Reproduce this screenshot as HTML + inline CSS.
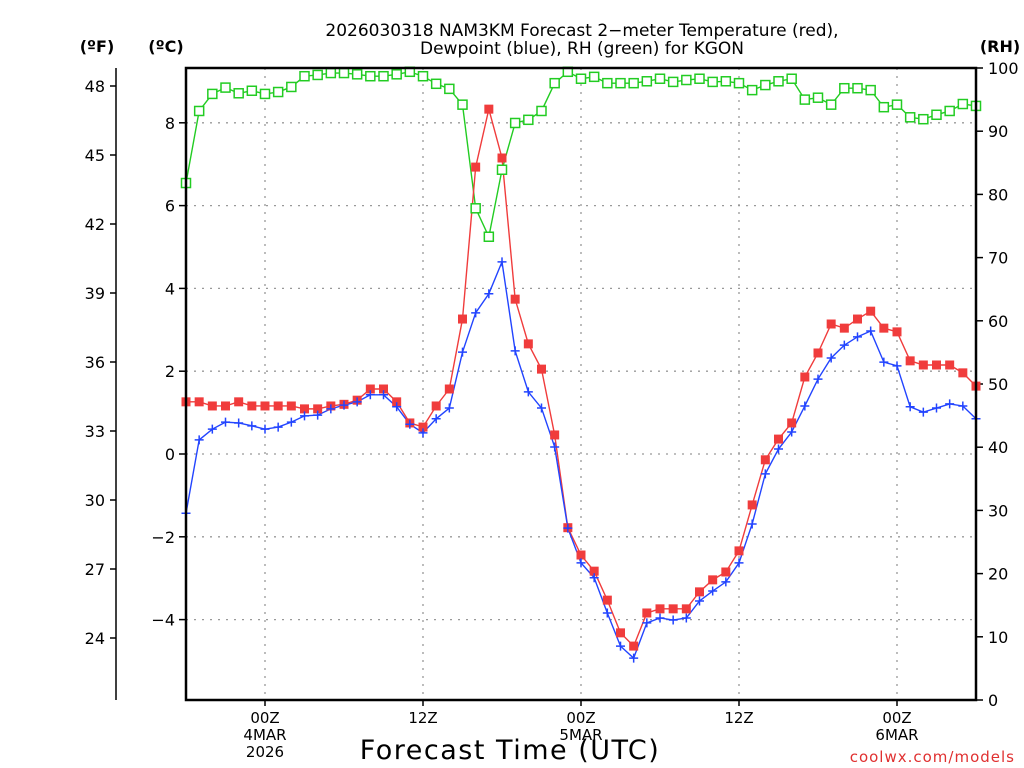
<!DOCTYPE html>
<html><head><meta charset="utf-8"><style>
html,body{margin:0;padding:0;background:#fff;}
svg{display:block;font-family:"DejaVu Sans","Liberation Sans",sans-serif;}
</style></head><body>
<svg id="chart" width="1024" height="768" viewBox="0 0 1024 768" xmlns="http://www.w3.org/2000/svg">
<text x="582" y="36" font-size="17" text-anchor="middle">2026030318 NAM3KM Forecast 2−meter Temperature (red),</text>
<text x="582" y="54" font-size="17" text-anchor="middle">Dewpoint (blue), RH (green) for KGON</text>
<text x="97" y="52" font-size="16" font-weight="bold" text-anchor="middle">(ºF)</text>
<text x="166" y="52" font-size="16" font-weight="bold" text-anchor="middle">(ºC)</text>
<text x="1000" y="52" font-size="16" font-weight="bold" text-anchor="middle">(RH)</text>
<g id="grid"></g>
<g id="axes"></g>
<g id="series"></g>
<rect x="186" y="68" width="790" height="632" fill="none" stroke="#000" stroke-width="2.5"/>
<text x="510" y="759" font-size="27" text-anchor="middle" letter-spacing="1.5">Forecast Time (UTC)</text>
<text x="1015" y="762" font-size="15" fill="#e03030" text-anchor="end" letter-spacing="1">coolwx.com/models</text>
</svg>
<script>
const hours = Array.from({length:61},(_,i)=>i);
const tempC = [1.26,1.26,1.16,1.16,1.26,1.16,1.16,1.16,1.16,1.09,1.09,1.16,1.2,1.3,1.57,1.57,1.26,0.75,0.65,1.16,1.57,3.26,6.93,8.33,7.15,3.74,2.66,2.05,0.46,-1.78,-2.44,-2.83,-3.53,-4.32,-4.64,-3.84,-3.74,-3.74,-3.74,-3.33,-3.04,-2.85,-2.34,-1.23,-0.14,0.36,0.75,1.86,2.44,3.14,3.04,3.26,3.45,3.04,2.95,2.25,2.15,2.15,2.15,1.96,1.64];
const dewC = [-1.43,0.34,0.6,0.77,0.75,0.68,0.6,0.65,0.77,0.92,0.94,1.09,1.18,1.26,1.43,1.43,1.14,0.72,0.51,0.85,1.11,2.46,3.41,3.87,4.64,2.49,1.5,1.11,0.17,-1.79,-2.63,-2.99,-3.84,-4.64,-4.93,-4.08,-3.96,-4.01,-3.96,-3.55,-3.31,-3.09,-2.63,-1.69,-0.48,0.12,0.53,1.16,1.81,2.32,2.63,2.83,2.97,2.22,2.13,1.14,1.01,1.11,1.21,1.16,0.85];
const rh = [81.8,93.2,95.9,96.9,96.0,96.4,95.9,96.2,97.0,98.7,98.9,99.2,99.2,99.0,98.7,98.7,99.0,99.4,98.7,97.5,96.7,94.2,77.8,73.3,83.9,91.3,91.8,93.2,97.6,99.4,98.3,98.6,97.6,97.6,97.6,97.9,98.3,97.8,98.1,98.3,97.8,97.9,97.6,96.5,97.3,97.9,98.3,95.0,95.3,94.2,96.8,96.8,96.5,93.8,94.2,92.2,91.9,92.6,93.2,94.3,94.0];
const cTicks = [-4,-2,0,2,4,6,8];
const fTicks = [24,27,30,33,36,39,42,45,48];
const rhTicks = [0,10,20,30,40,50,60,70,80,90,100];
const xTickHours = [6,18,30,42,54];
const xTickLabels = [["00Z","4MAR","2026"],["12Z"],["00Z","5MAR"],["12Z"],["00Z","6MAR"]];

const NS="http://www.w3.org/2000/svg";
const X0=186,X1=976,Y0=68,Y1=700;
const x = h => X0 + (h/60)*(X1-X0);
const yC = c => 454 - c*41.4;
const yF = f => yC((f-32)*5/9);
const yRH = r => Y1 - r/100*(Y1-Y0);
function mk(tag,attrs,parent,text){const e=document.createElementNS(NS,tag);for(const k in attrs)e.setAttribute(k,attrs[k]);if(text!==undefined)e.textContent=text;parent.appendChild(e);return e;}
const grid=document.getElementById('grid'),axes=document.getElementById('axes'),ser=document.getElementById('series');
const dash={stroke:"#999","stroke-width":1.3,"stroke-dasharray":"2 6"};
cTicks.forEach(c=>{
  const l=mk('line',Object.assign({x1:X0,x2:X1,y1:yC(c),y2:yC(c)},dash),grid);
  
  
  mk('line',{x1:179,x2:186,y1:yC(c),y2:yC(c),stroke:"#000","stroke-width":1.5},axes);
  const t=mk('text',{x:175,y:yC(c)+6,"font-size":16,"text-anchor":"end"},axes,c<0?"−"+(-c):String(c));
  
  
});
xTickHours.forEach((h,i)=>{
  const l=mk('line',Object.assign({x1:x(h),x2:x(h),y1:Y0,y2:Y1},dash),grid);
  
  
  mk('line',{x1:x(h),x2:x(h),y1:Y1,y2:Y1+6,stroke:"#000","stroke-width":1.5},axes);
  xTickLabels[i].forEach((s,j)=>{
    const t=mk('text',{x:x(h),y:723+j*17,"font-size":15,"text-anchor":"middle"},axes,s);
    
    
  });
});
mk('line',{x1:116,x2:116,y1:Y0,y2:Y1,stroke:"#000","stroke-width":1.5},axes);
fTicks.forEach(f=>{
  mk('line',{x1:110,x2:116,y1:yF(f),y2:yF(f),stroke:"#000","stroke-width":1.5},axes);
  const t=mk('text',{x:105,y:yF(f)+6,"font-size":16,"text-anchor":"end"},axes,String(f));
  
  
});
rhTicks.forEach(r=>{
  mk('line',{x1:976,x2:983,y1:yRH(r),y2:yRH(r),stroke:"#000","stroke-width":1.5},axes);
  const t=mk('text',{x:988,y:yRH(r)+6,"font-size":16,"text-anchor":"start"},axes,String(r));
  
  
});
function line(vals,yf,color,name){
  const p=mk('polyline',{points:vals.map((v,i)=>x(hours[i])+","+yf(v)).join(" "),fill:"none",stroke:color,"stroke-width":1.4},ser);
  
  
}
line(rh,yRH,"#22cc22","rh-line");
line(tempC,yC,"#f03c3c","temperature-line");
line(dewC,yC,"#2244ff","dewpoint-line");
rh.forEach((v,i)=>{const r=mk('rect',{x:x(hours[i])-4.5,y:yRH(v)-4.5,width:9,height:9,fill:"#fff",stroke:"#22cc22","stroke-width":1.5},ser);
  
  });
tempC.forEach((v,i)=>{const r=mk('rect',{x:x(hours[i])-4.5,y:yC(v)-4.5,width:9,height:9,fill:"#f03c3c"},ser);
  
  });
dewC.forEach((v,i)=>{const cx=x(hours[i]),cy=yC(v);
  const p=mk('path',{d:`M${cx-4.5},${cy}H${cx+4.5}M${cx},${cy-4.5}V${cy+4.5}`,stroke:"#2244ff","stroke-width":1.5},ser);
  
  });
</script>
</body></html>
